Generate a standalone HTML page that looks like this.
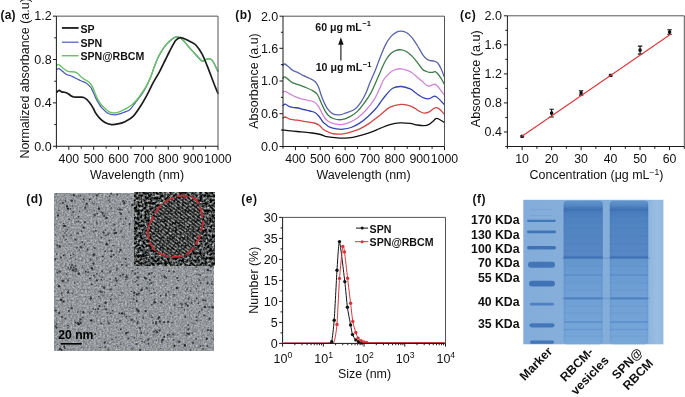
<!DOCTYPE html><html><head><meta charset="utf-8"><style>html,body{margin:0;padding:0;background:#fff;}svg{display:block;will-change:transform;}</style></head><body>
<svg width="685" height="397" viewBox="0 0 685 397" font-family='"Liberation Sans", sans-serif'>
<rect width="685" height="397" fill="#fff"/>
<text x="0.60" y="18.90" font-size="12.00" text-anchor="start" font-weight="bold" fill="#111" letter-spacing="0.15">(a)</text>
<path d="M56.70,69.30 C57.05,69.18 58.08,68.47 58.80,68.60 C59.52,68.73 60.12,69.42 61.00,70.10 C61.88,70.78 63.08,71.92 64.10,72.70 C65.12,73.48 66.10,74.33 67.10,74.80 C68.10,75.27 68.97,75.08 70.10,75.50 C71.23,75.92 72.63,76.67 73.90,77.30 C75.17,77.93 76.45,78.68 77.70,79.30 C78.95,79.92 80.15,80.47 81.40,81.00 C82.65,81.53 84.07,81.87 85.20,82.50 C86.33,83.13 87.32,84.03 88.20,84.80 C89.08,85.57 89.95,86.47 90.50,87.10 C91.05,87.73 91.00,87.65 91.50,88.60 C92.00,89.55 92.78,91.22 93.50,92.80 C94.22,94.38 94.92,96.33 95.80,98.10 C96.68,99.87 97.80,101.77 98.80,103.40 C99.80,105.03 100.28,106.27 101.80,107.90 C103.32,109.53 105.83,112.03 107.90,113.20 C109.97,114.37 112.10,114.83 114.20,114.90 C116.30,114.97 118.78,114.07 120.50,113.60 C122.22,113.13 122.95,112.73 124.50,112.10 C126.05,111.47 128.03,111.32 129.80,109.80 C131.57,108.28 133.22,105.43 135.10,103.00 C136.98,100.57 139.33,97.77 141.10,95.20 C142.87,92.63 144.18,90.42 145.70,87.60 C147.22,84.78 148.82,81.63 150.20,78.30 C151.58,74.97 152.87,70.65 154.00,67.60 C155.13,64.55 155.92,62.47 157.00,60.00 C158.08,57.53 158.88,55.45 160.50,52.80 C162.12,50.15 164.48,46.58 166.70,44.10 C168.92,41.62 171.88,39.08 173.80,37.90 C175.72,36.72 176.73,36.70 178.20,37.00 C179.67,37.30 180.98,38.22 182.60,39.70 C184.22,41.18 185.83,43.55 187.90,45.90 C189.97,48.25 192.65,51.30 195.00,53.80 C197.35,56.30 200.25,59.93 202.00,60.90 C203.75,61.87 204.33,59.97 205.50,59.60 C206.67,59.23 207.82,58.48 209.00,58.70 C210.18,58.92 211.12,58.78 212.60,60.90 C214.08,63.02 217.02,69.65 217.90,71.40" fill="none" stroke="#4a5ab8" stroke-width="1.25" stroke-linejoin="round" stroke-linecap="round"/>
<path d="M56.70,65.20 C57.05,65.10 58.08,64.42 58.80,64.60 C59.52,64.78 60.12,65.57 61.00,66.30 C61.88,67.03 63.08,68.18 64.10,69.00 C65.12,69.82 66.10,70.75 67.10,71.20 C68.10,71.65 68.85,71.57 70.10,71.70 C71.35,71.83 73.33,71.70 74.60,72.00 C75.87,72.30 76.68,72.75 77.70,73.50 C78.72,74.25 79.70,75.62 80.70,76.50 C81.70,77.38 82.57,78.05 83.70,78.80 C84.83,79.55 86.37,80.18 87.50,81.00 C88.63,81.82 89.68,82.75 90.50,83.70 C91.32,84.65 91.90,85.80 92.40,86.70 C92.90,87.60 92.93,87.70 93.50,89.10 C94.07,90.50 94.92,93.10 95.80,95.10 C96.68,97.10 97.80,99.40 98.80,101.10 C99.80,102.80 100.80,104.10 101.80,105.30 C102.80,106.50 103.57,107.22 104.80,108.30 C106.03,109.38 107.63,111.02 109.20,111.80 C110.77,112.58 112.40,113.03 114.20,113.00 C116.00,112.97 118.03,112.35 120.00,111.60 C121.97,110.85 124.12,109.55 126.00,108.50 C127.88,107.45 129.53,106.72 131.30,105.30 C133.07,103.88 134.97,101.88 136.60,100.00 C138.23,98.12 139.58,96.13 141.10,94.00 C142.62,91.87 144.18,89.85 145.70,87.20 C147.22,84.55 148.82,81.37 150.20,78.10 C151.58,74.83 152.87,70.62 154.00,67.60 C155.13,64.58 155.92,62.47 157.00,60.00 C158.08,57.53 158.88,55.45 160.50,52.80 C162.12,50.15 164.48,46.58 166.70,44.10 C168.92,41.62 171.88,39.08 173.80,37.90 C175.72,36.72 176.73,36.70 178.20,37.00 C179.67,37.30 180.98,38.22 182.60,39.70 C184.22,41.18 185.83,43.55 187.90,45.90 C189.97,48.25 192.65,51.30 195.00,53.80 C197.35,56.30 200.25,59.93 202.00,60.90 C203.75,61.87 204.33,59.97 205.50,59.60 C206.67,59.23 207.82,58.48 209.00,58.70 C210.18,58.92 211.12,58.78 212.60,60.90 C214.08,63.02 217.02,69.65 217.90,71.40" fill="none" stroke="#6cc366" stroke-width="1.45" stroke-linejoin="round" stroke-linecap="round"/>
<path d="M56.90,92.10 C57.08,91.92 57.57,91.28 58.00,91.00 C58.43,90.72 59.05,90.37 59.50,90.40 C59.95,90.43 60.25,90.92 60.70,91.20 C61.15,91.48 61.63,91.93 62.20,92.10 C62.77,92.27 63.42,92.10 64.10,92.20 C64.78,92.30 65.55,92.40 66.30,92.70 C67.05,93.00 67.83,93.50 68.60,94.00 C69.37,94.50 70.02,95.20 70.90,95.70 C71.78,96.20 72.77,96.75 73.90,97.00 C75.03,97.25 76.45,97.18 77.70,97.20 C78.95,97.22 80.40,97.05 81.40,97.10 C82.40,97.15 82.82,97.13 83.70,97.50 C84.58,97.87 85.70,98.43 86.70,99.30 C87.70,100.17 88.82,101.57 89.70,102.70 C90.58,103.83 91.30,104.97 92.00,106.10 C92.70,107.23 93.30,108.35 93.90,109.50 C94.50,110.65 94.53,111.43 95.60,113.00 C96.67,114.57 98.67,117.28 100.30,118.90 C101.93,120.52 103.50,121.75 105.40,122.70 C107.30,123.65 109.60,124.40 111.70,124.60 C113.80,124.80 115.70,124.43 118.00,123.90 C120.30,123.37 122.98,122.65 125.50,121.40 C128.02,120.15 130.50,119.08 133.10,116.40 C135.70,113.72 138.75,108.92 141.10,105.30 C143.45,101.68 145.18,98.47 147.20,94.70 C149.22,90.93 151.18,86.47 153.20,82.70 C155.22,78.93 157.28,75.88 159.30,72.10 C161.32,68.32 163.68,63.27 165.30,60.00 C166.92,56.73 167.28,55.73 169.00,52.50 C170.72,49.27 173.77,43.08 175.60,40.60 C177.43,38.12 178.53,37.90 180.00,37.60 C181.47,37.30 182.50,38.02 184.40,38.80 C186.30,39.58 189.50,41.27 191.40,42.30 C193.30,43.33 194.03,43.08 195.80,45.00 C197.57,46.92 200.08,50.28 202.00,53.80 C203.92,57.32 205.23,60.95 207.30,66.10 C209.37,71.25 212.63,80.18 214.40,84.70 C216.17,89.22 217.32,91.78 217.90,93.20" fill="none" stroke="#1c1c1c" stroke-width="1.70" stroke-linejoin="round" stroke-linecap="round"/>
<path d="M56.40,16.15 H218.00 V146.25" fill="none" stroke="#555" stroke-width="1.00"/>
<path d="M56.40,16.15 V146.25 H218.00" fill="none" stroke="#1a1a1a" stroke-width="1.00"/>
<path d="M52.90,146.25 H56.40 M52.90,102.88 H56.40 M52.90,59.52 H56.40 M52.90,16.15 H56.40 M54.30,124.57 H56.40 M54.30,81.20 H56.40 M54.30,37.83 H56.40 " stroke="#1a1a1a" stroke-width="1"/>
<path d="M68.83,146.25 V149.85 M93.69,146.25 V149.85 M118.55,146.25 V149.85 M143.42,146.25 V149.85 M168.28,146.25 V149.85 M193.14,146.25 V149.85 M218.00,146.25 V149.85 M56.40,146.25 V148.55 M81.26,146.25 V148.55 M106.12,146.25 V148.55 M130.98,146.25 V148.55 M155.85,146.25 V148.55 M180.71,146.25 V148.55 M205.57,146.25 V148.55 " stroke="#1a1a1a" stroke-width="1"/>
<text x="51.60" y="150.55" font-size="12.50" text-anchor="end" font-weight="normal" fill="#111" >0.0</text>
<text x="51.60" y="107.18" font-size="12.50" text-anchor="end" font-weight="normal" fill="#111" >0.4</text>
<text x="51.60" y="63.82" font-size="12.50" text-anchor="end" font-weight="normal" fill="#111" >0.8</text>
<text x="51.60" y="20.45" font-size="12.50" text-anchor="end" font-weight="normal" fill="#111" >1.2</text>
<text x="68.83" y="162.60" font-size="12.30" text-anchor="middle" font-weight="normal" fill="#111" >400</text>
<text x="93.69" y="162.60" font-size="12.30" text-anchor="middle" font-weight="normal" fill="#111" >500</text>
<text x="118.55" y="162.60" font-size="12.30" text-anchor="middle" font-weight="normal" fill="#111" >600</text>
<text x="143.42" y="162.60" font-size="12.30" text-anchor="middle" font-weight="normal" fill="#111" >700</text>
<text x="168.28" y="162.60" font-size="12.30" text-anchor="middle" font-weight="normal" fill="#111" >800</text>
<text x="193.14" y="162.60" font-size="12.30" text-anchor="middle" font-weight="normal" fill="#111" >900</text>
<text x="218.00" y="162.60" font-size="12.30" text-anchor="middle" font-weight="normal" fill="#111" >1000</text>
<text x="137.00" y="178.70" font-size="12.45" text-anchor="middle" font-weight="normal" fill="#111" >Wavelength (nm)</text>
<text transform="translate(28.5,158.6) rotate(-90)" font-size="12.45" fill="#111">Normalized absorbance (a.u)</text>
<path d="M61.9,27.95 H78.6" stroke="#1c1c1c" stroke-width="1.80"/>
<text x="80.40" y="32.65" font-size="10.60" text-anchor="start" font-weight="bold" fill="#111" >SP</text>
<path d="M61.9,42.20 H78.6" stroke="#4a5ab8" stroke-width="1.20"/>
<text x="80.40" y="46.90" font-size="10.60" text-anchor="start" font-weight="bold" fill="#111" >SPN</text>
<path d="M61.9,55.70 H78.6" stroke="#6cc366" stroke-width="1.50"/>
<text x="80.40" y="60.40" font-size="10.60" text-anchor="start" font-weight="bold" fill="#111" >SPN@RBCM</text>
<text x="235.30" y="19.20" font-size="12.00" text-anchor="start" font-weight="bold" fill="#111" letter-spacing="0.5">(b)</text>
<path d="M282.60,129.80 C283.95,129.98 287.57,130.55 290.70,130.90 C293.83,131.25 297.85,131.55 301.40,131.90 C304.95,132.25 308.80,132.57 312.00,133.00 C315.20,133.43 318.17,133.90 320.60,134.50 C323.03,135.10 324.23,136.07 326.60,136.60 C328.97,137.13 331.80,137.43 334.80,137.70 C337.80,137.97 341.60,138.25 344.60,138.20 C347.60,138.15 349.80,137.95 352.80,137.40 C355.80,136.85 359.32,135.87 362.60,134.90 C365.88,133.93 369.60,132.68 372.50,131.60 C375.40,130.52 377.08,129.57 380.00,128.40 C382.92,127.23 386.67,125.52 390.00,124.60 C393.33,123.68 396.67,123.10 400.00,122.90 C403.33,122.70 407.13,123.05 410.00,123.40 C412.87,123.75 414.80,124.62 417.20,125.00 C419.60,125.38 422.40,125.82 424.40,125.70 C426.40,125.58 427.80,125.02 429.20,124.30 C430.60,123.58 431.68,122.35 432.80,121.40 C433.92,120.45 434.92,119.00 435.90,118.60 C436.88,118.20 437.28,118.33 438.70,119.00 C440.12,119.67 443.45,122.00 444.40,122.60" fill="none" stroke="#111" stroke-width="1.30" stroke-linejoin="round" stroke-linecap="round"/>
<path d="M282.90,117.90 C283.30,117.75 284.18,116.80 285.30,117.00 C286.42,117.20 287.63,118.57 289.60,119.10 C291.57,119.63 294.43,119.77 297.10,120.20 C299.77,120.63 302.75,121.23 305.60,121.70 C308.45,122.17 311.88,122.37 314.20,123.00 C316.52,123.63 317.90,124.37 319.50,125.50 C321.10,126.63 321.80,128.50 323.80,129.80 C325.80,131.10 328.58,132.58 331.50,133.30 C334.42,134.02 338.30,134.23 341.30,134.10 C344.30,133.97 346.50,133.32 349.50,132.50 C352.50,131.68 356.02,130.72 359.30,129.20 C362.58,127.68 365.75,125.73 369.20,123.40 C372.65,121.07 376.53,117.90 380.00,115.20 C383.47,112.50 386.50,109.02 390.00,107.20 C393.50,105.38 397.67,104.52 401.00,104.30 C404.33,104.08 407.70,105.23 410.00,105.90 C412.30,106.57 413.20,107.38 414.80,108.30 C416.40,109.22 418.00,110.60 419.60,111.40 C421.20,112.20 422.80,113.02 424.40,113.10 C426.00,113.18 427.60,112.70 429.20,111.90 C430.80,111.10 432.62,108.98 434.00,108.30 C435.38,107.62 436.32,107.40 437.50,107.80 C438.68,108.20 439.95,109.62 441.10,110.70 C442.25,111.78 443.85,113.70 444.40,114.30" fill="none" stroke="#d24545" stroke-width="1.30" stroke-linejoin="round" stroke-linecap="round"/>
<path d="M282.90,105.50 C283.30,105.28 284.18,104.00 285.30,104.20 C286.42,104.40 288.17,106.13 289.60,106.70 C291.03,107.27 292.47,107.38 293.90,107.60 C295.33,107.82 296.60,107.68 298.20,108.00 C299.80,108.32 301.55,109.00 303.50,109.50 C305.45,110.00 307.93,110.47 309.90,111.00 C311.87,111.53 313.70,111.70 315.30,112.70 C316.90,113.70 318.27,115.50 319.50,117.00 C320.73,118.50 321.63,120.47 322.70,121.70 C323.77,122.93 324.72,123.48 325.90,124.40 C327.08,125.32 328.05,126.45 329.80,127.20 C331.55,127.95 334.20,128.57 336.40,128.90 C338.60,129.23 340.55,129.43 343.00,129.20 C345.45,128.97 348.38,128.47 351.10,127.50 C353.82,126.53 356.57,125.17 359.30,123.40 C362.03,121.63 364.77,119.35 367.50,116.90 C370.23,114.45 373.62,111.02 375.70,108.70 C377.78,106.38 378.28,105.28 380.00,103.00 C381.72,100.72 383.90,97.47 386.00,95.00 C388.10,92.53 390.03,89.62 392.60,88.20 C395.17,86.78 398.47,86.38 401.40,86.50 C404.33,86.62 407.97,87.95 410.20,88.90 C412.43,89.85 413.23,91.08 414.80,92.20 C416.37,93.32 418.00,94.60 419.60,95.60 C421.20,96.60 422.80,97.68 424.40,98.20 C426.00,98.72 427.60,99.02 429.20,98.70 C430.80,98.38 432.82,96.62 434.00,96.30 C435.18,95.98 435.32,96.20 436.30,96.80 C437.28,97.40 438.55,98.58 439.90,99.90 C441.25,101.22 443.65,103.90 444.40,104.70" fill="none" stroke="#3444b0" stroke-width="1.30" stroke-linejoin="round" stroke-linecap="round"/>
<path d="M282.90,92.20 C283.30,92.07 284.18,91.12 285.30,91.40 C286.42,91.68 287.98,93.02 289.60,93.90 C291.22,94.78 293.03,95.88 295.00,96.70 C296.97,97.52 299.27,98.20 301.40,98.80 C303.53,99.40 305.67,99.77 307.80,100.30 C309.93,100.83 312.42,101.00 314.20,102.00 C315.98,103.00 317.25,104.52 318.50,106.30 C319.75,108.08 320.63,110.75 321.70,112.70 C322.77,114.65 323.68,116.48 324.90,118.00 C326.12,119.52 327.35,120.82 329.00,121.80 C330.65,122.78 332.75,123.43 334.80,123.90 C336.85,124.37 338.85,124.87 341.30,124.60 C343.75,124.33 346.77,123.45 349.50,122.30 C352.23,121.15 354.97,119.70 357.70,117.70 C360.43,115.70 363.17,113.30 365.90,110.30 C368.63,107.30 371.95,103.00 374.10,99.70 C376.25,96.40 377.18,93.87 378.80,90.50 C380.42,87.13 381.80,82.60 383.80,79.50 C385.80,76.40 388.75,73.60 390.80,71.90 C392.85,70.20 394.33,69.82 396.10,69.30 C397.87,68.78 399.63,68.65 401.40,68.80 C403.17,68.95 404.93,69.53 406.70,70.20 C408.47,70.87 410.23,71.63 412.00,72.80 C413.77,73.97 415.55,75.73 417.30,77.20 C419.05,78.67 421.05,80.33 422.50,81.60 C423.95,82.87 424.88,84.07 426.00,84.80 C427.12,85.53 427.87,86.08 429.20,86.00 C430.53,85.92 432.82,84.47 434.00,84.30 C435.18,84.13 435.32,84.20 436.30,85.00 C437.28,85.80 438.55,87.42 439.90,89.10 C441.25,90.78 443.65,94.10 444.40,95.10" fill="none" stroke="#cf86d2" stroke-width="1.30" stroke-linejoin="round" stroke-linecap="round"/>
<path d="M282.90,78.30 C283.20,78.07 283.77,76.68 284.70,76.90 C285.63,77.12 287.15,78.62 288.50,79.60 C289.85,80.58 291.02,81.92 292.80,82.80 C294.58,83.68 297.07,84.12 299.20,84.90 C301.33,85.68 303.47,86.60 305.60,87.50 C307.73,88.40 310.03,89.13 312.00,90.30 C313.97,91.47 315.78,92.20 317.40,94.50 C319.02,96.80 320.45,101.42 321.70,104.10 C322.95,106.78 323.82,108.75 324.90,110.60 C325.98,112.45 326.83,113.88 328.20,115.20 C329.57,116.52 330.92,117.75 333.10,118.50 C335.28,119.25 338.57,119.97 341.30,119.70 C344.03,119.43 346.77,118.33 349.50,116.90 C352.23,115.47 355.23,113.42 357.70,111.10 C360.17,108.78 362.12,106.00 364.30,103.00 C366.48,100.00 369.02,96.22 370.80,93.10 C372.58,89.98 373.42,87.83 375.00,84.30 C376.58,80.77 378.53,75.87 380.30,71.90 C382.07,67.93 383.85,63.57 385.60,60.50 C387.35,57.43 389.05,55.20 390.80,53.50 C392.55,51.80 394.33,50.90 396.10,50.30 C397.87,49.70 399.63,49.67 401.40,49.90 C403.17,50.13 404.93,50.67 406.70,51.70 C408.47,52.73 410.23,54.33 412.00,56.10 C413.77,57.87 415.55,60.10 417.30,62.30 C419.05,64.50 420.97,67.77 422.50,69.30 C424.03,70.83 425.38,71.00 426.50,71.50 C427.62,72.00 428.15,72.17 429.20,72.30 C430.25,72.43 431.82,72.42 432.80,72.30 C433.78,72.18 434.32,71.40 435.10,71.60 C435.88,71.80 436.50,72.38 437.50,73.50 C438.50,74.62 439.95,76.50 441.10,78.30 C442.25,80.10 443.85,83.30 444.40,84.30" fill="none" stroke="#3e7b46" stroke-width="1.30" stroke-linejoin="round" stroke-linecap="round"/>
<path d="M282.90,65.50 C283.20,65.25 283.77,63.78 284.70,64.00 C285.63,64.22 287.15,65.73 288.50,66.80 C289.85,67.87 291.37,69.52 292.80,70.40 C294.23,71.28 295.32,71.22 297.10,72.10 C298.88,72.98 301.37,74.63 303.50,75.70 C305.63,76.77 307.93,77.50 309.90,78.50 C311.87,79.50 313.87,80.28 315.30,81.70 C316.73,83.12 317.43,84.50 318.50,87.00 C319.57,89.50 320.63,93.85 321.70,96.70 C322.77,99.55 323.95,102.10 324.90,104.10 C325.85,106.10 326.17,107.12 327.40,108.70 C328.63,110.28 330.25,112.58 332.30,113.60 C334.35,114.62 337.38,114.93 339.70,114.80 C342.02,114.67 343.75,113.68 346.20,112.80 C348.65,111.92 351.93,111.28 354.40,109.50 C356.87,107.72 359.08,104.83 361.00,102.10 C362.92,99.37 364.40,96.37 365.90,93.10 C367.40,89.83 368.48,86.17 370.00,82.50 C371.52,78.83 373.28,75.35 375.00,71.10 C376.72,66.85 378.53,61.42 380.30,57.00 C382.07,52.58 383.85,47.98 385.60,44.60 C387.35,41.22 389.05,38.75 390.80,36.70 C392.55,34.65 394.33,33.23 396.10,32.30 C397.87,31.37 399.63,31.03 401.40,31.10 C403.17,31.17 404.93,31.62 406.70,32.70 C408.47,33.78 410.23,35.47 412.00,37.60 C413.77,39.73 415.55,42.72 417.30,45.50 C419.05,48.28 421.05,52.13 422.50,54.30 C423.95,56.47 424.88,57.48 426.00,58.50 C427.12,59.52 427.87,59.97 429.20,60.40 C430.53,60.83 432.62,60.70 434.00,61.10 C435.38,61.50 436.32,61.53 437.50,62.80 C438.68,64.07 439.95,66.32 441.10,68.70 C442.25,71.08 443.85,75.70 444.40,77.10" fill="none" stroke="#5a64ac" stroke-width="1.30" stroke-linejoin="round" stroke-linecap="round"/>
<path d="M283.00,16.20 H444.50 V146.50" fill="none" stroke="#555" stroke-width="1.00"/>
<path d="M283.00,16.20 V146.50 H444.50" fill="none" stroke="#1a1a1a" stroke-width="1.00"/>
<path d="M279.50,146.50 H283.00 M279.50,113.70 H283.00 M279.50,81.00 H283.00 M279.50,48.30 H283.00 M279.50,16.20 H283.00 M280.90,130.10 H283.00 M280.90,97.35 H283.00 M280.90,64.65 H283.00 M280.90,32.25 H283.00 " stroke="#1a1a1a" stroke-width="1"/>
<path d="M295.42,146.50 V150.10 M320.27,146.50 V150.10 M345.12,146.50 V150.10 M369.96,146.50 V150.10 M394.81,146.50 V150.10 M419.65,146.50 V150.10 M444.50,146.50 V150.10 M283.00,146.50 V148.80 M307.85,146.50 V148.80 M332.69,146.50 V148.80 M357.54,146.50 V148.80 M382.38,146.50 V148.80 M407.23,146.50 V148.80 M432.08,146.50 V148.80 " stroke="#1a1a1a" stroke-width="1"/>
<text x="278.30" y="150.80" font-size="12.50" text-anchor="end" font-weight="normal" fill="#111" >0.0</text>
<text x="278.30" y="118.00" font-size="12.50" text-anchor="end" font-weight="normal" fill="#111" >0.6</text>
<text x="278.30" y="85.30" font-size="12.50" text-anchor="end" font-weight="normal" fill="#111" >1.0</text>
<text x="278.30" y="52.60" font-size="12.50" text-anchor="end" font-weight="normal" fill="#111" >1.6</text>
<text x="278.30" y="20.50" font-size="12.50" text-anchor="end" font-weight="normal" fill="#111" >2.0</text>
<text x="295.42" y="162.60" font-size="12.30" text-anchor="middle" font-weight="normal" fill="#111" >400</text>
<text x="320.27" y="162.60" font-size="12.30" text-anchor="middle" font-weight="normal" fill="#111" >500</text>
<text x="345.12" y="162.60" font-size="12.30" text-anchor="middle" font-weight="normal" fill="#111" >600</text>
<text x="369.96" y="162.60" font-size="12.30" text-anchor="middle" font-weight="normal" fill="#111" >700</text>
<text x="394.81" y="162.60" font-size="12.30" text-anchor="middle" font-weight="normal" fill="#111" >800</text>
<text x="419.65" y="162.60" font-size="12.30" text-anchor="middle" font-weight="normal" fill="#111" >900</text>
<text x="444.50" y="162.60" font-size="12.30" text-anchor="middle" font-weight="normal" fill="#111" >1000</text>
<text x="363.50" y="178.70" font-size="12.45" text-anchor="middle" font-weight="normal" fill="#111" >Wavelength (nm)</text>
<text transform="translate(258.3,81.0) rotate(-90)" font-size="12.45" fill="#111" text-anchor="middle">Absorbance (a.u)</text>
<text x="315.3" y="30.6" font-size="10.6" font-weight="bold" fill="#111">60 μg mL<tspan font-size="7.6" dx="0.5" dy="-4.3">−1</tspan></text>
<text x="315.7" y="71.3" font-size="10.6" font-weight="bold" fill="#111">10 μg mL<tspan font-size="7.6" dx="0.5" dy="-4.3">−1</tspan></text>
<path d="M340.9,60.6 V42" stroke="#111" stroke-width="1.1"/>
<path d="M338.2,44.8 L340.9,37.2 L343.6,44.8 Z" fill="#111"/>
<text x="460.10" y="19.20" font-size="12.00" text-anchor="start" font-weight="bold" fill="#111" letter-spacing="0.5">(c)</text>
<path d="M507.40,15.80 H684.30 V146.50" fill="none" stroke="#555" stroke-width="1.00"/>
<path d="M507.40,15.80 V146.50 H684.30" fill="none" stroke="#1a1a1a" stroke-width="1.00"/>
<path d="M503.90,131.98 H507.40 M503.90,102.93 H507.40 M503.90,73.89 H507.40 M503.90,44.84 H507.40 M503.90,15.80 H507.40 M505.30,146.50 H507.40 M505.30,117.46 H507.40 M505.30,88.41 H507.40 M505.30,59.37 H507.40 M505.30,30.32 H507.40 " stroke="#1a1a1a" stroke-width="1"/>
<path d="M522.14,146.50 V150.10 M551.62,146.50 V150.10 M581.11,146.50 V150.10 M610.59,146.50 V150.10 M640.07,146.50 V150.10 M669.56,146.50 V150.10 M507.40,146.50 V148.80 M536.88,146.50 V148.80 M566.37,146.50 V148.80 M595.85,146.50 V148.80 M625.33,146.50 V148.80 M654.82,146.50 V148.80 M684.30,146.50 V148.80 " stroke="#1a1a1a" stroke-width="1"/>
<text x="502.00" y="136.28" font-size="12.50" text-anchor="end" font-weight="normal" fill="#111" >0.4</text>
<text x="502.00" y="107.23" font-size="12.50" text-anchor="end" font-weight="normal" fill="#111" >0.8</text>
<text x="502.00" y="78.19" font-size="12.50" text-anchor="end" font-weight="normal" fill="#111" >1.2</text>
<text x="502.00" y="49.14" font-size="12.50" text-anchor="end" font-weight="normal" fill="#111" >1.6</text>
<text x="502.00" y="20.10" font-size="12.50" text-anchor="end" font-weight="normal" fill="#111" >2.0</text>
<text x="522.14" y="163.00" font-size="12.30" text-anchor="middle" font-weight="normal" fill="#111" >10</text>
<text x="551.62" y="163.00" font-size="12.30" text-anchor="middle" font-weight="normal" fill="#111" >20</text>
<text x="581.11" y="163.00" font-size="12.30" text-anchor="middle" font-weight="normal" fill="#111" >30</text>
<text x="610.59" y="163.00" font-size="12.30" text-anchor="middle" font-weight="normal" fill="#111" >40</text>
<text x="640.07" y="163.00" font-size="12.30" text-anchor="middle" font-weight="normal" fill="#111" >50</text>
<text x="669.56" y="163.00" font-size="12.30" text-anchor="middle" font-weight="normal" fill="#111" >60</text>
<text x="529.6" y="179.1" font-size="12.45" fill="#111">Concentration (μg mL<tspan font-size="8.5" dy="-4.6">−1</tspan><tspan dy="4.6">)</tspan></text>
<text transform="translate(479.6,78.7) rotate(-90)" font-size="12.65" fill="#111" text-anchor="middle">Absorbance (a.u)</text>
<rect x="520.54" y="134.70" width="3.2" height="3.2" rx="0.6" fill="#111"/>
<path d="M519.94,136.90 H524.34" stroke="#111" stroke-width="0.8"/>
<rect x="550.02" y="111.50" width="3.2" height="3.2" rx="0.6" fill="#111"/>
<path d="M551.62,109.20 V117.00 M549.42,109.20 H553.83 M549.42,117.00 H553.83" stroke="#111" stroke-width="1.1"/>
<rect x="579.51" y="91.30" width="3.2" height="3.2" rx="0.6" fill="#111"/>
<path d="M581.11,90.70 V95.10 M578.91,90.70 H583.31 M578.91,95.10 H583.31" stroke="#111" stroke-width="1.1"/>
<rect x="608.99" y="73.80" width="3.2" height="3.2" rx="0.6" fill="#111"/>
<path d="M608.39,76.00 H612.79" stroke="#111" stroke-width="0.8"/>
<rect x="638.47" y="48.50" width="3.2" height="3.2" rx="0.6" fill="#111"/>
<path d="M640.07,46.10 V54.10 M637.87,46.10 H642.27 M637.87,54.10 H642.27" stroke="#111" stroke-width="1.1"/>
<rect x="667.96" y="30.40" width="3.2" height="3.2" rx="0.6" fill="#111"/>
<path d="M669.56,29.80 V34.20 M667.36,29.80 H671.76 M667.36,34.20 H671.76" stroke="#111" stroke-width="1.1"/>
<path d="M521.6,136.4 L671,33.9" stroke="#dc3a3e" stroke-width="1.2"/>
<text x="26.30" y="203.00" font-size="12.00" text-anchor="start" font-weight="bold" fill="#111" letter-spacing="0.5">(d)</text>
<defs><filter id="temf" filterUnits="userSpaceOnUse" x="54" y="193" width="160" height="158" color-interpolation-filters="sRGB"><feTurbulence type="fractalNoise" baseFrequency="0.55" numOctaves="2" seed="4"/><feColorMatrix type="matrix" values="0.5 0 0 0 0.33  0.5 0 0 0 0.345  0.5 0 0 0 0.36  0 0 0 0 1"/></filter><filter id="insf" filterUnits="userSpaceOnUse" x="134" y="192" width="81" height="74" color-interpolation-filters="sRGB"><feTurbulence type="fractalNoise" baseFrequency="0.4" numOctaves="2" seed="11"/><feColorMatrix type="matrix" values="1.6 0 0 0 -0.53  1.6 0 0 0 -0.52  1.6 0 0 0 -0.52  0 0 0 0 1"/></filter><filter id="dblur" x="-50%" y="-50%" width="200%" height="200%"><feGaussianBlur stdDeviation="0.22"/></filter></defs>
<rect x="54.10" y="193.00" width="159.80" height="158.00" fill="#999" filter="url(#temf)"/>
<g fill="#222426" filter="url(#dblur)"><circle cx="106.0" cy="217.2" r="0.60" fill-opacity="0.63"/><circle cx="63.8" cy="273.2" r="0.60" fill-opacity="0.63"/><circle cx="121.0" cy="231.3" r="1.10" fill-opacity="0.62"/><circle cx="144.4" cy="342.2" r="0.60" fill-opacity="0.83"/><circle cx="117.6" cy="346.8" r="0.60" fill-opacity="0.82"/><circle cx="75.7" cy="259.3" r="0.70" fill-opacity="0.83"/><circle cx="143.6" cy="300.6" r="0.70" fill-opacity="0.83"/><circle cx="64.1" cy="225.8" r="1.10" fill-opacity="0.91"/><circle cx="128.5" cy="338.5" r="1.00" fill-opacity="0.72"/><circle cx="180.7" cy="303.2" r="0.80" fill-opacity="0.63"/><circle cx="102.3" cy="271.2" r="1.00" fill-opacity="0.89"/><circle cx="100.3" cy="347.4" r="0.70" fill-opacity="0.80"/><circle cx="80.8" cy="247.2" r="1.20" fill-opacity="0.77"/><circle cx="143.2" cy="317.4" r="1.00" fill-opacity="0.74"/><circle cx="110.2" cy="271.5" r="1.20" fill-opacity="0.63"/><circle cx="69.5" cy="235.9" r="0.70" fill-opacity="0.62"/><circle cx="166.0" cy="295.1" r="1.20" fill-opacity="0.71"/><circle cx="115.9" cy="298.5" r="0.60" fill-opacity="0.98"/><circle cx="111.0" cy="289.4" r="1.20" fill-opacity="0.62"/><circle cx="93.9" cy="254.9" r="1.20" fill-opacity="0.63"/><circle cx="125.9" cy="279.8" r="0.75" fill-opacity="0.93"/><circle cx="120.5" cy="249.8" r="1.10" fill-opacity="0.98"/><circle cx="78.6" cy="221.2" r="0.80" fill-opacity="0.86"/><circle cx="56.5" cy="324.0" r="0.75" fill-opacity="0.71"/><circle cx="55.3" cy="259.3" r="1.00" fill-opacity="0.84"/><circle cx="105.2" cy="213.2" r="0.60" fill-opacity="0.78"/><circle cx="192.9" cy="342.9" r="1.10" fill-opacity="0.76"/><circle cx="117.2" cy="269.1" r="1.10" fill-opacity="0.62"/><circle cx="65.3" cy="226.3" r="0.75" fill-opacity="0.64"/><circle cx="144.6" cy="277.7" r="1.00" fill-opacity="0.85"/><circle cx="65.8" cy="226.1" r="1.10" fill-opacity="0.66"/><circle cx="94.7" cy="248.0" r="1.00" fill-opacity="0.79"/><circle cx="72.9" cy="270.1" r="1.20" fill-opacity="0.79"/><circle cx="104.1" cy="216.1" r="1.00" fill-opacity="0.90"/><circle cx="130.6" cy="302.2" r="0.60" fill-opacity="0.68"/><circle cx="164.2" cy="337.0" r="0.90" fill-opacity="0.99"/><circle cx="191.7" cy="302.8" r="0.90" fill-opacity="0.81"/><circle cx="90.0" cy="278.5" r="1.00" fill-opacity="0.85"/><circle cx="152.0" cy="317.3" r="0.80" fill-opacity="0.92"/><circle cx="184.6" cy="309.7" r="0.80" fill-opacity="0.68"/><circle cx="132.9" cy="308.3" r="0.60" fill-opacity="0.92"/><circle cx="129.6" cy="223.9" r="1.00" fill-opacity="0.78"/><circle cx="203.4" cy="348.6" r="1.00" fill-opacity="0.63"/><circle cx="70.8" cy="267.3" r="1.00" fill-opacity="0.68"/><circle cx="153.7" cy="334.8" r="0.60" fill-opacity="0.79"/><circle cx="158.3" cy="319.0" r="0.70" fill-opacity="0.93"/><circle cx="73.6" cy="254.5" r="0.80" fill-opacity="0.79"/><circle cx="82.9" cy="317.4" r="1.00" fill-opacity="0.63"/><circle cx="204.9" cy="306.8" r="1.20" fill-opacity="0.76"/><circle cx="205.0" cy="307.3" r="0.75" fill-opacity="1.00"/><circle cx="59.0" cy="286.3" r="1.20" fill-opacity="0.92"/><circle cx="77.8" cy="323.3" r="1.20" fill-opacity="0.86"/><circle cx="110.2" cy="279.6" r="0.75" fill-opacity="0.61"/><circle cx="181.5" cy="307.5" r="0.70" fill-opacity="0.81"/><circle cx="193.0" cy="323.2" r="0.80" fill-opacity="0.61"/><circle cx="88.4" cy="272.2" r="1.00" fill-opacity="0.70"/><circle cx="121.1" cy="214.1" r="1.00" fill-opacity="0.96"/><circle cx="159.8" cy="321.5" r="1.10" fill-opacity="0.93"/><circle cx="78.7" cy="273.7" r="1.20" fill-opacity="0.91"/><circle cx="151.2" cy="315.3" r="0.75" fill-opacity="0.67"/><circle cx="129.8" cy="307.4" r="0.60" fill-opacity="0.73"/><circle cx="136.9" cy="280.7" r="0.70" fill-opacity="0.95"/><circle cx="63.6" cy="223.5" r="0.60" fill-opacity="0.91"/><circle cx="135.2" cy="281.7" r="0.70" fill-opacity="0.78"/><circle cx="151.9" cy="272.9" r="0.80" fill-opacity="0.88"/><circle cx="126.4" cy="277.2" r="1.20" fill-opacity="0.80"/><circle cx="93.9" cy="275.6" r="0.90" fill-opacity="0.97"/><circle cx="125.7" cy="258.9" r="1.10" fill-opacity="0.78"/><circle cx="66.1" cy="231.3" r="0.70" fill-opacity="0.69"/><circle cx="102.7" cy="212.7" r="0.75" fill-opacity="0.98"/><circle cx="94.8" cy="215.0" r="1.20" fill-opacity="0.69"/><circle cx="132.0" cy="348.9" r="0.80" fill-opacity="0.66"/><circle cx="123.1" cy="274.4" r="1.00" fill-opacity="0.77"/><circle cx="111.2" cy="208.0" r="1.00" fill-opacity="0.61"/><circle cx="57.5" cy="245.5" r="0.90" fill-opacity="0.80"/><circle cx="64.8" cy="348.2" r="0.80" fill-opacity="0.99"/><circle cx="71.2" cy="235.2" r="0.60" fill-opacity="0.96"/><circle cx="83.4" cy="312.2" r="1.10" fill-opacity="0.94"/><circle cx="161.9" cy="342.0" r="1.10" fill-opacity="0.66"/><circle cx="200.6" cy="283.1" r="1.00" fill-opacity="0.64"/><circle cx="63.7" cy="301.5" r="1.10" fill-opacity="0.96"/><circle cx="97.3" cy="196.1" r="0.70" fill-opacity="0.92"/><circle cx="67.9" cy="327.9" r="0.70" fill-opacity="0.71"/><circle cx="73.9" cy="195.3" r="1.10" fill-opacity="0.97"/><circle cx="97.1" cy="213.8" r="0.80" fill-opacity="0.98"/><circle cx="154.4" cy="276.9" r="0.80" fill-opacity="0.72"/><circle cx="109.7" cy="196.4" r="0.90" fill-opacity="0.61"/><circle cx="57.5" cy="272.9" r="0.80" fill-opacity="0.81"/><circle cx="93.6" cy="263.7" r="1.10" fill-opacity="0.86"/><circle cx="141.3" cy="333.0" r="0.90" fill-opacity="0.88"/><circle cx="186.8" cy="304.5" r="0.75" fill-opacity="0.76"/><circle cx="109.8" cy="202.0" r="0.75" fill-opacity="0.61"/><circle cx="153.9" cy="331.6" r="1.10" fill-opacity="0.67"/><circle cx="68.0" cy="325.6" r="0.90" fill-opacity="0.84"/><circle cx="84.0" cy="235.7" r="0.60" fill-opacity="0.71"/><circle cx="207.3" cy="346.2" r="1.00" fill-opacity="0.70"/><circle cx="111.2" cy="193.7" r="1.10" fill-opacity="0.63"/><circle cx="98.9" cy="296.5" r="0.80" fill-opacity="0.80"/><circle cx="55.4" cy="235.0" r="0.70" fill-opacity="0.66"/><circle cx="102.2" cy="292.4" r="0.70" fill-opacity="0.83"/><circle cx="138.6" cy="311.3" r="1.10" fill-opacity="0.91"/><circle cx="169.0" cy="271.1" r="0.90" fill-opacity="0.89"/><circle cx="187.2" cy="333.5" r="1.10" fill-opacity="0.89"/><circle cx="137.8" cy="272.7" r="0.60" fill-opacity="0.93"/><circle cx="147.3" cy="333.7" r="0.80" fill-opacity="0.63"/><circle cx="61.2" cy="293.5" r="0.70" fill-opacity="0.75"/><circle cx="126.3" cy="201.5" r="0.60" fill-opacity="0.85"/><circle cx="162.7" cy="270.3" r="0.60" fill-opacity="0.78"/><circle cx="138.1" cy="310.6" r="1.20" fill-opacity="0.70"/><circle cx="66.4" cy="235.2" r="0.80" fill-opacity="0.69"/><circle cx="62.0" cy="292.8" r="0.80" fill-opacity="0.63"/><circle cx="78.0" cy="233.4" r="0.90" fill-opacity="0.85"/><circle cx="75.8" cy="269.2" r="1.20" fill-opacity="0.71"/><circle cx="161.3" cy="302.2" r="1.20" fill-opacity="0.72"/><circle cx="128.7" cy="212.1" r="0.80" fill-opacity="0.72"/><circle cx="68.2" cy="267.8" r="0.90" fill-opacity="0.78"/><circle cx="184.8" cy="345.5" r="1.20" fill-opacity="1.00"/><circle cx="116.0" cy="337.4" r="0.80" fill-opacity="0.63"/><circle cx="68.9" cy="310.9" r="0.90" fill-opacity="0.98"/><circle cx="75.7" cy="322.3" r="0.90" fill-opacity="0.95"/><circle cx="197.2" cy="269.8" r="0.60" fill-opacity="0.66"/><circle cx="205.5" cy="300.5" r="1.10" fill-opacity="0.72"/><circle cx="76.9" cy="247.5" r="1.00" fill-opacity="0.65"/><circle cx="107.2" cy="244.5" r="1.00" fill-opacity="0.94"/><circle cx="167.8" cy="335.0" r="0.90" fill-opacity="0.70"/><circle cx="64.9" cy="254.8" r="0.70" fill-opacity="0.74"/><circle cx="122.6" cy="236.7" r="0.60" fill-opacity="0.71"/><circle cx="62.8" cy="297.4" r="0.75" fill-opacity="0.70"/><circle cx="96.8" cy="273.7" r="0.80" fill-opacity="0.91"/><circle cx="59.2" cy="313.1" r="1.10" fill-opacity="0.97"/><circle cx="204.0" cy="279.7" r="0.70" fill-opacity="0.62"/><circle cx="174.1" cy="294.7" r="0.90" fill-opacity="0.79"/><circle cx="199.4" cy="279.9" r="0.75" fill-opacity="0.79"/><circle cx="109.2" cy="240.3" r="0.90" fill-opacity="0.76"/><circle cx="92.5" cy="269.4" r="1.10" fill-opacity="0.65"/><circle cx="134.1" cy="321.0" r="0.80" fill-opacity="0.78"/><circle cx="107.5" cy="312.7" r="1.10" fill-opacity="0.66"/><circle cx="85.2" cy="207.7" r="1.00" fill-opacity="0.82"/><circle cx="105.3" cy="251.3" r="0.80" fill-opacity="0.95"/><circle cx="120.3" cy="275.8" r="1.10" fill-opacity="0.71"/><circle cx="174.0" cy="271.7" r="1.00" fill-opacity="0.65"/><circle cx="134.5" cy="292.4" r="0.80" fill-opacity="0.64"/><circle cx="104.1" cy="321.4" r="0.60" fill-opacity="0.65"/><circle cx="122.1" cy="313.4" r="1.20" fill-opacity="0.99"/><circle cx="132.4" cy="205.0" r="1.20" fill-opacity="0.99"/><circle cx="94.1" cy="210.6" r="0.75" fill-opacity="0.66"/><circle cx="185.7" cy="303.6" r="1.20" fill-opacity="0.63"/><circle cx="74.6" cy="282.9" r="0.60" fill-opacity="0.86"/><circle cx="102.8" cy="213.6" r="0.90" fill-opacity="0.81"/><circle cx="124.1" cy="313.4" r="0.70" fill-opacity="0.63"/><circle cx="137.9" cy="285.0" r="1.10" fill-opacity="0.70"/><circle cx="140.0" cy="349.9" r="0.90" fill-opacity="0.98"/><circle cx="157.0" cy="332.3" r="1.20" fill-opacity="0.81"/><circle cx="120.0" cy="295.5" r="0.60" fill-opacity="0.61"/><circle cx="133.7" cy="299.4" r="1.10" fill-opacity="0.63"/><circle cx="90.8" cy="260.1" r="1.00" fill-opacity="0.69"/><circle cx="60.0" cy="246.6" r="1.10" fill-opacity="0.74"/><circle cx="117.5" cy="194.6" r="0.90" fill-opacity="0.90"/><circle cx="89.8" cy="312.9" r="0.90" fill-opacity="0.64"/><circle cx="153.6" cy="289.3" r="0.80" fill-opacity="0.79"/><circle cx="149.1" cy="338.2" r="0.60" fill-opacity="0.69"/><circle cx="62.8" cy="202.9" r="1.10" fill-opacity="0.78"/><circle cx="72.6" cy="206.0" r="0.75" fill-opacity="0.73"/><circle cx="114.0" cy="245.6" r="0.75" fill-opacity="0.64"/><circle cx="67.0" cy="206.2" r="1.10" fill-opacity="0.98"/><circle cx="87.5" cy="249.5" r="0.90" fill-opacity="0.93"/><circle cx="123.3" cy="201.2" r="1.20" fill-opacity="0.68"/><circle cx="105.9" cy="309.3" r="1.20" fill-opacity="0.61"/><circle cx="119.8" cy="321.0" r="1.10" fill-opacity="0.62"/><circle cx="60.1" cy="203.3" r="0.60" fill-opacity="0.70"/><circle cx="173.3" cy="334.6" r="1.00" fill-opacity="0.75"/><circle cx="107.8" cy="343.2" r="0.60" fill-opacity="0.70"/><circle cx="98.4" cy="194.1" r="0.70" fill-opacity="0.61"/><circle cx="91.7" cy="268.1" r="1.20" fill-opacity="0.98"/><circle cx="116.0" cy="232.9" r="1.10" fill-opacity="0.93"/><circle cx="75.7" cy="271.5" r="0.60" fill-opacity="0.92"/><circle cx="171.9" cy="322.7" r="0.75" fill-opacity="0.84"/><circle cx="106.7" cy="243.7" r="1.00" fill-opacity="0.91"/><circle cx="149.2" cy="273.9" r="1.10" fill-opacity="0.90"/><circle cx="93.9" cy="203.7" r="0.60" fill-opacity="0.79"/><circle cx="122.3" cy="210.0" r="0.70" fill-opacity="0.71"/><circle cx="68.0" cy="208.6" r="1.20" fill-opacity="1.00"/><circle cx="75.7" cy="265.9" r="0.80" fill-opacity="0.90"/><circle cx="189.1" cy="297.8" r="0.70" fill-opacity="0.91"/><circle cx="101.3" cy="237.4" r="0.90" fill-opacity="0.75"/><circle cx="93.9" cy="232.0" r="0.75" fill-opacity="0.71"/><circle cx="64.9" cy="233.0" r="0.80" fill-opacity="0.80"/><circle cx="91.3" cy="320.4" r="1.20" fill-opacity="1.00"/><circle cx="70.9" cy="268.0" r="0.80" fill-opacity="0.94"/><circle cx="101.2" cy="212.2" r="0.80" fill-opacity="0.84"/><circle cx="66.5" cy="274.0" r="0.75" fill-opacity="0.78"/><circle cx="95.9" cy="315.6" r="0.60" fill-opacity="0.64"/><circle cx="149.3" cy="290.8" r="0.80" fill-opacity="0.61"/><circle cx="108.6" cy="200.4" r="0.90" fill-opacity="0.62"/><circle cx="170.9" cy="337.0" r="0.60" fill-opacity="0.93"/><circle cx="119.5" cy="251.9" r="0.90" fill-opacity="0.63"/><circle cx="59.6" cy="271.3" r="1.20" fill-opacity="0.63"/><circle cx="70.7" cy="255.6" r="0.75" fill-opacity="0.86"/><circle cx="69.1" cy="219.2" r="0.90" fill-opacity="0.76"/><circle cx="99.6" cy="241.8" r="0.60" fill-opacity="0.72"/><circle cx="120.7" cy="329.2" r="1.00" fill-opacity="0.86"/><circle cx="116.6" cy="257.1" r="0.60" fill-opacity="0.77"/><circle cx="79.5" cy="211.3" r="0.70" fill-opacity="0.76"/><circle cx="80.4" cy="195.8" r="0.75" fill-opacity="0.86"/><circle cx="99.6" cy="275.3" r="0.70" fill-opacity="0.64"/><circle cx="132.5" cy="319.9" r="0.80" fill-opacity="0.72"/><circle cx="151.1" cy="293.4" r="0.70" fill-opacity="0.96"/><circle cx="153.1" cy="323.0" r="0.75" fill-opacity="0.86"/><circle cx="190.6" cy="291.0" r="0.80" fill-opacity="0.93"/><circle cx="83.7" cy="227.7" r="1.10" fill-opacity="0.98"/><circle cx="79.4" cy="249.9" r="0.75" fill-opacity="0.70"/><circle cx="169.7" cy="334.4" r="0.60" fill-opacity="0.95"/><circle cx="188.4" cy="299.0" r="1.00" fill-opacity="0.65"/><circle cx="149.8" cy="279.9" r="0.90" fill-opacity="0.86"/><circle cx="103.5" cy="232.6" r="1.10" fill-opacity="0.86"/><circle cx="125.6" cy="262.3" r="0.60" fill-opacity="0.60"/><circle cx="211.2" cy="266.5" r="1.20" fill-opacity="0.91"/><circle cx="83.1" cy="267.8" r="0.70" fill-opacity="0.63"/><circle cx="111.5" cy="250.9" r="1.20" fill-opacity="0.80"/><circle cx="104.4" cy="306.6" r="0.70" fill-opacity="0.62"/><circle cx="190.7" cy="349.9" r="0.70" fill-opacity="0.68"/><circle cx="210.5" cy="270.7" r="0.75" fill-opacity="0.87"/><circle cx="186.9" cy="289.3" r="0.90" fill-opacity="0.66"/><circle cx="134.4" cy="337.9" r="0.80" fill-opacity="0.84"/><circle cx="113.7" cy="224.7" r="1.10" fill-opacity="0.66"/><circle cx="203.3" cy="300.2" r="1.10" fill-opacity="0.67"/><circle cx="138.9" cy="293.4" r="1.00" fill-opacity="0.99"/><circle cx="126.5" cy="275.4" r="0.70" fill-opacity="0.70"/><circle cx="139.7" cy="328.0" r="1.00" fill-opacity="0.71"/><circle cx="211.9" cy="284.1" r="1.00" fill-opacity="0.73"/><circle cx="67.5" cy="229.6" r="0.60" fill-opacity="0.72"/><circle cx="208.0" cy="330.1" r="1.00" fill-opacity="0.89"/><circle cx="100.8" cy="291.7" r="1.10" fill-opacity="0.81"/><circle cx="90.7" cy="296.0" r="0.60" fill-opacity="0.62"/><circle cx="137.7" cy="277.4" r="1.10" fill-opacity="0.83"/><circle cx="153.7" cy="268.1" r="0.75" fill-opacity="0.61"/><circle cx="181.9" cy="304.6" r="1.20" fill-opacity="0.64"/><circle cx="155.9" cy="330.3" r="0.90" fill-opacity="0.76"/><circle cx="96.6" cy="195.3" r="1.00" fill-opacity="0.84"/><circle cx="146.5" cy="288.0" r="1.20" fill-opacity="0.70"/><circle cx="92.3" cy="202.7" r="0.70" fill-opacity="0.60"/><circle cx="142.1" cy="341.2" r="0.75" fill-opacity="0.77"/><circle cx="136.9" cy="294.4" r="1.10" fill-opacity="0.93"/><circle cx="82.3" cy="242.1" r="0.90" fill-opacity="0.85"/><circle cx="212.5" cy="307.2" r="1.20" fill-opacity="0.89"/><circle cx="55.6" cy="326.1" r="1.20" fill-opacity="0.63"/><circle cx="196.1" cy="338.8" r="0.90" fill-opacity="0.88"/><circle cx="96.8" cy="280.4" r="1.10" fill-opacity="0.87"/><circle cx="200.3" cy="346.1" r="0.90" fill-opacity="0.86"/><circle cx="95.9" cy="230.6" r="0.80" fill-opacity="0.98"/><circle cx="154.8" cy="302.3" r="1.20" fill-opacity="0.79"/><circle cx="147.6" cy="282.2" r="0.75" fill-opacity="0.66"/><circle cx="58.9" cy="210.2" r="0.75" fill-opacity="0.74"/><circle cx="77.1" cy="198.0" r="0.60" fill-opacity="0.66"/><circle cx="65.4" cy="200.8" r="1.00" fill-opacity="0.68"/><circle cx="206.2" cy="277.3" r="0.70" fill-opacity="0.95"/><circle cx="174.6" cy="305.2" r="1.10" fill-opacity="0.64"/><circle cx="87.3" cy="211.1" r="0.60" fill-opacity="0.98"/><circle cx="199.3" cy="311.8" r="0.70" fill-opacity="0.93"/><circle cx="70.5" cy="208.9" r="0.80" fill-opacity="0.72"/><circle cx="108.0" cy="234.5" r="1.00" fill-opacity="0.70"/><circle cx="99.5" cy="305.9" r="1.00" fill-opacity="0.96"/><circle cx="176.8" cy="288.0" r="1.20" fill-opacity="0.94"/><circle cx="120.2" cy="262.0" r="0.70" fill-opacity="0.74"/><circle cx="166.5" cy="277.9" r="0.80" fill-opacity="0.89"/><circle cx="186.1" cy="283.7" r="0.90" fill-opacity="0.67"/><circle cx="54.8" cy="225.2" r="0.60" fill-opacity="0.60"/><circle cx="132.5" cy="270.7" r="0.75" fill-opacity="0.99"/><circle cx="148.7" cy="343.8" r="0.90" fill-opacity="0.83"/><circle cx="79.8" cy="321.5" r="0.80" fill-opacity="0.80"/><circle cx="72.1" cy="293.4" r="0.70" fill-opacity="0.80"/><circle cx="212.0" cy="281.6" r="0.70" fill-opacity="0.85"/><circle cx="111.1" cy="256.5" r="1.10" fill-opacity="0.96"/><circle cx="102.7" cy="260.7" r="0.75" fill-opacity="0.75"/><circle cx="127.8" cy="277.0" r="0.60" fill-opacity="0.74"/><circle cx="106.5" cy="217.9" r="1.20" fill-opacity="0.86"/><circle cx="124.3" cy="314.9" r="0.80" fill-opacity="0.65"/><circle cx="128.0" cy="332.5" r="0.80" fill-opacity="0.80"/><circle cx="97.1" cy="312.0" r="0.75" fill-opacity="0.89"/><circle cx="209.4" cy="307.0" r="1.00" fill-opacity="0.66"/><circle cx="106.7" cy="223.2" r="0.70" fill-opacity="0.67"/><circle cx="78.6" cy="216.8" r="0.90" fill-opacity="0.89"/><circle cx="123.7" cy="224.3" r="0.70" fill-opacity="0.71"/><circle cx="56.6" cy="327.6" r="1.10" fill-opacity="0.88"/><circle cx="134.1" cy="292.8" r="1.20" fill-opacity="0.61"/><circle cx="95.4" cy="309.4" r="0.60" fill-opacity="0.90"/><circle cx="145.7" cy="311.1" r="1.10" fill-opacity="0.94"/><circle cx="160.7" cy="295.9" r="0.80" fill-opacity="0.87"/><circle cx="104.3" cy="292.1" r="0.70" fill-opacity="0.96"/><circle cx="93.1" cy="256.3" r="0.75" fill-opacity="0.70"/><circle cx="121.9" cy="265.0" r="1.10" fill-opacity="0.81"/><circle cx="159.6" cy="330.6" r="1.00" fill-opacity="0.91"/><circle cx="116.3" cy="270.4" r="0.70" fill-opacity="0.62"/><circle cx="178.7" cy="341.2" r="1.00" fill-opacity="0.64"/><circle cx="145.8" cy="278.4" r="1.20" fill-opacity="0.80"/><circle cx="156.1" cy="323.7" r="1.00" fill-opacity="0.76"/><circle cx="63.6" cy="236.6" r="1.10" fill-opacity="0.62"/><circle cx="154.4" cy="299.5" r="0.90" fill-opacity="0.64"/><circle cx="102.8" cy="256.4" r="0.80" fill-opacity="1.00"/><circle cx="65.5" cy="318.8" r="0.80" fill-opacity="0.79"/><circle cx="156.0" cy="322.0" r="1.10" fill-opacity="0.79"/><circle cx="101.3" cy="279.6" r="0.75" fill-opacity="0.91"/><circle cx="129.1" cy="316.5" r="0.80" fill-opacity="0.71"/><circle cx="114.3" cy="233.3" r="1.10" fill-opacity="0.87"/><circle cx="131.1" cy="320.0" r="0.90" fill-opacity="0.74"/><circle cx="131.6" cy="291.4" r="0.70" fill-opacity="0.86"/><circle cx="112.2" cy="339.3" r="1.10" fill-opacity="0.62"/><circle cx="186.1" cy="335.7" r="0.75" fill-opacity="0.81"/><circle cx="109.4" cy="284.9" r="0.60" fill-opacity="0.68"/><circle cx="66.0" cy="239.5" r="0.70" fill-opacity="0.83"/><circle cx="126.4" cy="316.7" r="0.80" fill-opacity="0.96"/><circle cx="196.1" cy="289.0" r="0.70" fill-opacity="0.87"/><circle cx="196.6" cy="317.2" r="0.90" fill-opacity="0.68"/><circle cx="164.6" cy="276.8" r="1.20" fill-opacity="0.87"/><circle cx="73.2" cy="212.1" r="1.10" fill-opacity="0.69"/><circle cx="76.7" cy="270.9" r="0.60" fill-opacity="0.79"/><circle cx="198.4" cy="303.5" r="0.80" fill-opacity="0.80"/><circle cx="140.3" cy="329.0" r="0.60" fill-opacity="0.66"/><circle cx="105.5" cy="302.8" r="1.20" fill-opacity="0.87"/><circle cx="121.1" cy="344.3" r="0.70" fill-opacity="0.67"/><circle cx="111.8" cy="295.0" r="0.60" fill-opacity="0.84"/><circle cx="163.0" cy="339.7" r="1.00" fill-opacity="0.92"/><circle cx="69.5" cy="269.5" r="0.75" fill-opacity="0.61"/><circle cx="168.6" cy="291.7" r="1.00" fill-opacity="0.64"/><circle cx="178.2" cy="280.5" r="0.80" fill-opacity="0.71"/><circle cx="108.9" cy="233.0" r="0.60" fill-opacity="0.93"/><circle cx="101.1" cy="323.5" r="1.10" fill-opacity="0.73"/><circle cx="210.9" cy="330.6" r="1.00" fill-opacity="0.99"/><circle cx="158.5" cy="317.8" r="1.00" fill-opacity="0.68"/><circle cx="71.8" cy="200.8" r="1.20" fill-opacity="0.84"/><circle cx="159.1" cy="317.4" r="1.10" fill-opacity="0.85"/><circle cx="154.1" cy="302.8" r="0.70" fill-opacity="0.69"/><circle cx="83.4" cy="199.3" r="0.70" fill-opacity="0.97"/><circle cx="185.2" cy="317.0" r="0.90" fill-opacity="0.94"/><circle cx="83.9" cy="198.9" r="0.60" fill-opacity="0.77"/><circle cx="156.5" cy="340.1" r="0.60" fill-opacity="0.80"/><circle cx="137.5" cy="323.0" r="1.10" fill-opacity="0.83"/><circle cx="56.8" cy="254.3" r="0.75" fill-opacity="0.79"/><circle cx="120.1" cy="209.5" r="1.20" fill-opacity="0.68"/><circle cx="78.7" cy="195.9" r="0.60" fill-opacity="0.60"/><circle cx="160.9" cy="348.4" r="0.70" fill-opacity="0.69"/><circle cx="73.9" cy="267.7" r="0.90" fill-opacity="0.89"/><circle cx="93.1" cy="308.7" r="0.75" fill-opacity="0.97"/><circle cx="112.7" cy="310.8" r="0.75" fill-opacity="0.89"/><circle cx="68.0" cy="292.2" r="1.20" fill-opacity="0.78"/><circle cx="207.7" cy="306.1" r="0.60" fill-opacity="0.62"/><circle cx="194.9" cy="301.3" r="0.70" fill-opacity="0.76"/><circle cx="104.2" cy="287.7" r="1.20" fill-opacity="0.84"/><circle cx="104.8" cy="342.5" r="1.20" fill-opacity="0.79"/><circle cx="80.6" cy="319.4" r="1.20" fill-opacity="0.75"/><circle cx="179.5" cy="341.9" r="1.00" fill-opacity="0.72"/><circle cx="64.2" cy="346.4" r="1.00" fill-opacity="0.95"/><circle cx="78.6" cy="324.2" r="1.10" fill-opacity="0.99"/><circle cx="93.7" cy="254.3" r="1.10" fill-opacity="0.84"/><circle cx="196.9" cy="320.3" r="0.90" fill-opacity="0.88"/><circle cx="105.7" cy="235.6" r="0.75" fill-opacity="0.83"/><circle cx="184.2" cy="332.8" r="0.60" fill-opacity="0.72"/><circle cx="209.5" cy="318.7" r="1.20" fill-opacity="0.74"/><circle cx="68.1" cy="280.4" r="1.10" fill-opacity="0.68"/><circle cx="173.7" cy="339.8" r="0.80" fill-opacity="0.72"/><circle cx="63.7" cy="255.6" r="0.80" fill-opacity="0.97"/><circle cx="115.7" cy="278.4" r="1.00" fill-opacity="0.91"/><circle cx="91.6" cy="284.5" r="0.90" fill-opacity="0.95"/><circle cx="137.5" cy="268.3" r="0.80" fill-opacity="0.68"/><circle cx="85.1" cy="221.9" r="0.90" fill-opacity="0.75"/><circle cx="61.7" cy="350.1" r="1.00" fill-opacity="0.95"/><circle cx="113.6" cy="266.3" r="0.70" fill-opacity="0.66"/><circle cx="59.9" cy="349.0" r="1.20" fill-opacity="0.83"/><circle cx="99.0" cy="208.7" r="1.20" fill-opacity="0.91"/><circle cx="184.6" cy="344.8" r="0.90" fill-opacity="0.94"/><circle cx="108.4" cy="349.7" r="1.10" fill-opacity="0.63"/><circle cx="62.7" cy="281.0" r="1.20" fill-opacity="0.79"/><circle cx="188.9" cy="334.0" r="1.10" fill-opacity="0.97"/><circle cx="105.2" cy="230.1" r="0.70" fill-opacity="0.98"/><circle cx="125.8" cy="218.6" r="0.80" fill-opacity="1.00"/><circle cx="89.8" cy="199.6" r="0.90" fill-opacity="0.98"/><circle cx="64.0" cy="280.3" r="0.60" fill-opacity="0.93"/><circle cx="62.1" cy="317.0" r="1.20" fill-opacity="0.62"/><circle cx="77.6" cy="312.0" r="0.80" fill-opacity="0.87"/><circle cx="102.0" cy="286.4" r="0.70" fill-opacity="0.79"/><circle cx="113.6" cy="254.7" r="1.00" fill-opacity="0.79"/><circle cx="81.4" cy="230.9" r="0.75" fill-opacity="0.97"/><circle cx="196.3" cy="267.0" r="0.80" fill-opacity="0.92"/><circle cx="79.5" cy="324.3" r="0.70" fill-opacity="0.97"/><circle cx="192.2" cy="333.0" r="0.75" fill-opacity="0.91"/><circle cx="206.7" cy="338.9" r="1.10" fill-opacity="0.94"/><circle cx="108.6" cy="322.7" r="1.20" fill-opacity="0.65"/><circle cx="112.7" cy="245.6" r="0.60" fill-opacity="0.67"/><circle cx="126.3" cy="333.1" r="1.20" fill-opacity="0.95"/><circle cx="96.9" cy="258.1" r="0.75" fill-opacity="0.61"/><circle cx="71.9" cy="265.1" r="1.20" fill-opacity="0.65"/><circle cx="196.7" cy="298.4" r="0.80" fill-opacity="0.82"/><circle cx="174.5" cy="345.9" r="1.10" fill-opacity="1.00"/><circle cx="213.1" cy="338.7" r="0.70" fill-opacity="0.76"/><circle cx="120.6" cy="219.0" r="0.90" fill-opacity="0.66"/><circle cx="135.2" cy="273.7" r="1.20" fill-opacity="0.60"/><circle cx="186.8" cy="276.2" r="0.75" fill-opacity="0.74"/><circle cx="61.0" cy="257.7" r="0.90" fill-opacity="0.83"/><circle cx="76.5" cy="221.8" r="0.80" fill-opacity="0.88"/><circle cx="85.8" cy="205.9" r="0.70" fill-opacity="0.96"/><circle cx="170.7" cy="313.0" r="0.75" fill-opacity="0.68"/><circle cx="151.9" cy="304.6" r="0.80" fill-opacity="0.83"/><circle cx="86.7" cy="203.8" r="1.10" fill-opacity="0.94"/><circle cx="200.1" cy="274.9" r="1.00" fill-opacity="0.73"/><circle cx="188.3" cy="329.2" r="1.20" fill-opacity="0.64"/><circle cx="119.6" cy="313.3" r="0.75" fill-opacity="0.95"/><circle cx="96.9" cy="222.7" r="1.00" fill-opacity="0.61"/><circle cx="166.1" cy="283.8" r="0.60" fill-opacity="0.74"/><circle cx="202.6" cy="345.6" r="0.70" fill-opacity="0.65"/><circle cx="168.1" cy="321.7" r="1.00" fill-opacity="0.91"/><circle cx="192.5" cy="284.0" r="0.60" fill-opacity="0.72"/><circle cx="71.7" cy="308.3" r="1.20" fill-opacity="0.81"/><circle cx="138.8" cy="277.9" r="0.60" fill-opacity="0.70"/><circle cx="68.7" cy="290.7" r="0.75" fill-opacity="0.64"/><circle cx="94.4" cy="321.8" r="0.60" fill-opacity="0.61"/><circle cx="201.7" cy="309.5" r="0.90" fill-opacity="0.61"/><circle cx="149.8" cy="284.0" r="0.80" fill-opacity="0.88"/><circle cx="74.1" cy="271.0" r="0.90" fill-opacity="0.64"/><circle cx="90.7" cy="298.5" r="1.20" fill-opacity="0.90"/><circle cx="80.7" cy="323.2" r="1.10" fill-opacity="0.88"/><circle cx="149.4" cy="288.1" r="0.60" fill-opacity="0.76"/><circle cx="204.1" cy="315.5" r="1.00" fill-opacity="0.76"/><circle cx="187.8" cy="305.8" r="1.00" fill-opacity="0.93"/><circle cx="136.8" cy="343.9" r="1.00" fill-opacity="0.70"/><circle cx="121.6" cy="292.8" r="1.00" fill-opacity="0.64"/><circle cx="84.4" cy="244.4" r="0.80" fill-opacity="0.80"/><circle cx="57.9" cy="215.4" r="1.10" fill-opacity="0.91"/><circle cx="203.4" cy="292.9" r="0.60" fill-opacity="0.61"/><circle cx="140.7" cy="338.6" r="0.70" fill-opacity="0.70"/><circle cx="103.1" cy="295.2" r="0.70" fill-opacity="0.62"/><circle cx="206.9" cy="338.1" r="0.90" fill-opacity="0.63"/><circle cx="148.3" cy="339.8" r="1.20" fill-opacity="0.65"/><circle cx="75.5" cy="239.6" r="1.10" fill-opacity="0.83"/><circle cx="98.1" cy="309.0" r="0.90" fill-opacity="0.94"/><circle cx="151.5" cy="283.0" r="1.10" fill-opacity="0.68"/><circle cx="141.6" cy="289.7" r="1.20" fill-opacity="0.93"/><circle cx="59.5" cy="245.9" r="0.80" fill-opacity="0.80"/><circle cx="115.4" cy="285.5" r="0.60" fill-opacity="0.97"/><circle cx="106.0" cy="244.6" r="0.90" fill-opacity="0.71"/><circle cx="124.5" cy="203.2" r="1.10" fill-opacity="0.93"/><circle cx="110.8" cy="313.3" r="0.80" fill-opacity="1.00"/><circle cx="162.2" cy="340.1" r="1.10" fill-opacity="0.73"/><circle cx="110.6" cy="299.5" r="0.90" fill-opacity="0.93"/><circle cx="136.8" cy="309.5" r="1.20" fill-opacity="0.71"/><circle cx="154.8" cy="292.7" r="0.75" fill-opacity="0.77"/><circle cx="71.0" cy="257.9" r="0.70" fill-opacity="0.80"/><circle cx="207.5" cy="283.3" r="1.10" fill-opacity="0.94"/><circle cx="99.0" cy="291.1" r="0.70" fill-opacity="0.75"/><circle cx="126.4" cy="265.4" r="1.00" fill-opacity="0.72"/><circle cx="116.6" cy="280.7" r="1.10" fill-opacity="0.86"/><circle cx="55.7" cy="310.6" r="1.20" fill-opacity="0.75"/><circle cx="102.2" cy="277.8" r="0.75" fill-opacity="0.77"/><circle cx="114.5" cy="229.9" r="1.00" fill-opacity="0.73"/><circle cx="188.5" cy="325.1" r="1.00" fill-opacity="0.68"/><circle cx="122.3" cy="336.5" r="0.60" fill-opacity="0.61"/><circle cx="95.3" cy="334.2" r="0.90" fill-opacity="0.97"/><circle cx="177.4" cy="278.0" r="1.10" fill-opacity="0.81"/><circle cx="136.7" cy="301.1" r="1.10" fill-opacity="0.79"/><circle cx="61.1" cy="299.7" r="1.20" fill-opacity="0.98"/><circle cx="162.0" cy="276.0" r="0.70" fill-opacity="0.76"/><circle cx="134.1" cy="295.3" r="0.75" fill-opacity="0.95"/><circle cx="207.8" cy="269.9" r="1.20" fill-opacity="0.91"/><circle cx="197.4" cy="285.7" r="0.70" fill-opacity="0.67"/><circle cx="105.1" cy="347.1" r="0.90" fill-opacity="0.81"/><circle cx="164.2" cy="322.3" r="1.10" fill-opacity="0.85"/><circle cx="137.8" cy="321.6" r="0.80" fill-opacity="0.80"/><circle cx="84.5" cy="222.1" r="0.70" fill-opacity="0.74"/><circle cx="212.4" cy="293.4" r="0.60" fill-opacity="0.88"/><circle cx="56.3" cy="193.9" r="0.60" fill-opacity="0.97"/><circle cx="117.7" cy="209.0" r="0.60" fill-opacity="0.87"/><circle cx="85.8" cy="271.7" r="0.90" fill-opacity="0.95"/><circle cx="196.8" cy="274.3" r="0.75" fill-opacity="0.83"/><circle cx="119.9" cy="212.6" r="0.75" fill-opacity="0.81"/></g>
<rect x="134.80" y="193.00" width="79.20" height="72.40" fill="#333" filter="url(#insf)"/>
<defs><clipPath id="elc2"><path d="M149.10,240.10 C148.85,238.92 147.65,235.27 147.60,233.00 C147.55,230.73 148.13,228.63 148.80,226.50 C149.47,224.37 150.72,222.08 151.60,220.20 C152.48,218.32 153.18,216.87 154.10,215.20 C155.02,213.53 156.08,211.72 157.10,210.20 C158.12,208.68 159.02,207.37 160.20,206.10 C161.38,204.83 162.70,203.68 164.20,202.60 C165.70,201.52 167.52,200.52 169.20,199.60 C170.88,198.68 172.42,197.77 174.30,197.10 C176.18,196.43 178.37,195.78 180.50,195.60 C182.63,195.42 185.17,195.75 187.10,196.00 C189.03,196.25 190.67,196.55 192.10,197.10 C193.53,197.65 194.68,198.30 195.70,199.30 C196.72,200.30 197.45,201.63 198.20,203.10 C198.95,204.57 199.62,206.42 200.20,208.10 C200.78,209.78 201.28,211.52 201.70,213.20 C202.12,214.88 202.50,216.48 202.70,218.20 C202.90,219.92 203.08,221.53 202.90,223.50 C202.72,225.47 202.13,227.90 201.60,230.00 C201.07,232.10 200.43,234.08 199.70,236.10 C198.97,238.12 198.30,240.08 197.20,242.10 C196.10,244.12 194.62,246.35 193.10,248.20 C191.58,250.05 189.77,251.95 188.10,253.20 C186.43,254.45 185.12,255.10 183.10,255.70 C181.08,256.30 178.48,256.70 176.00,256.80 C173.52,256.90 170.33,256.65 168.20,256.30 C166.07,255.95 164.97,255.38 163.20,254.70 C161.43,254.02 159.12,253.12 157.60,252.20 C156.08,251.28 155.13,250.40 154.10,249.20 C153.07,248.00 152.23,246.52 151.40,245.00 C150.57,243.48 149.73,242.10 149.10,240.10 C148.47,238.10 147.65,235.27 147.60,233.00 C147.55,230.73 148.60,227.58 148.80,226.50"/></clipPath></defs>
<g clip-path="url(#elc2)"><rect x="140" y="190" width="70" height="75" fill="#141414"/><g stroke="#e0e0e0" stroke-width="1.20" stroke-dasharray="3.5 1.2 2 1.5 5 1.3" opacity="0.90"><path d="M175.75,153.09 L246.67,208.50" stroke-dashoffset="0.6"/><path d="M173.96,155.38 L244.88,210.79" stroke-dashoffset="7.6"/><path d="M172.18,157.66 L243.10,213.07" stroke-dashoffset="3.9"/><path d="M170.39,159.95 L241.31,215.36" stroke-dashoffset="3.7"/><path d="M168.61,162.23 L239.53,217.64" stroke-dashoffset="3.4"/><path d="M166.82,164.52 L237.74,219.93" stroke-dashoffset="6.4"/><path d="M165.04,166.80 L235.96,222.21" stroke-dashoffset="5.2"/><path d="M163.25,169.09 L234.17,224.50" stroke-dashoffset="5.5"/><path d="M161.46,171.37 L232.39,226.78" stroke-dashoffset="4.6"/><path d="M159.68,173.66 L230.60,229.07" stroke-dashoffset="1.2"/><path d="M157.89,175.94 L228.81,231.35" stroke-dashoffset="1.9"/><path d="M156.11,178.23 L227.03,233.64" stroke-dashoffset="2.2"/><path d="M154.32,180.51 L225.24,235.92" stroke-dashoffset="0.3"/><path d="M152.54,182.80 L223.46,238.21" stroke-dashoffset="5.0"/><path d="M150.75,185.08 L221.67,240.49" stroke-dashoffset="6.9"/><path d="M148.97,187.37 L219.89,242.78" stroke-dashoffset="7.6"/><path d="M147.18,189.65 L218.10,245.06" stroke-dashoffset="0.5"/><path d="M145.40,191.94 L216.32,247.35" stroke-dashoffset="1.5"/><path d="M143.61,194.22 L214.53,249.63" stroke-dashoffset="5.0"/><path d="M141.82,196.51 L212.75,251.92" stroke-dashoffset="0.2"/><path d="M140.04,198.80 L210.96,254.20" stroke-dashoffset="1.8"/><path d="M138.25,201.08 L209.18,256.49" stroke-dashoffset="3.2"/><path d="M136.47,203.37 L207.39,258.78" stroke-dashoffset="6.1"/><path d="M134.68,205.65 L205.60,261.06" stroke-dashoffset="0.4"/><path d="M132.90,207.94 L203.82,263.35" stroke-dashoffset="0.4"/><path d="M131.11,210.22 L202.03,265.63" stroke-dashoffset="1.9"/><path d="M129.33,212.51 L200.25,267.92" stroke-dashoffset="1.8"/><path d="M127.54,214.79 L198.46,270.20" stroke-dashoffset="1.3"/><path d="M125.76,217.08 L196.68,272.49" stroke-dashoffset="4.7"/><path d="M123.97,219.36 L194.89,274.77" stroke-dashoffset="1.4"/><path d="M122.19,221.65 L193.11,277.06" stroke-dashoffset="0.0"/><path d="M120.40,223.93 L191.32,279.34" stroke-dashoffset="6.9"/><path d="M118.61,226.22 L189.54,281.63" stroke-dashoffset="3.6"/><path d="M116.83,228.50 L187.75,283.91" stroke-dashoffset="3.3"/><path d="M115.04,230.79 L185.96,286.20" stroke-dashoffset="2.0"/><path d="M113.26,233.07 L184.18,288.48" stroke-dashoffset="7.1"/><path d="M111.47,235.36 L182.39,290.77" stroke-dashoffset="7.8"/><path d="M109.69,237.64 L180.61,293.05" stroke-dashoffset="0.5"/><path d="M107.90,239.93 L178.82,295.34" stroke-dashoffset="5.4"/><path d="M106.12,242.21 L177.04,297.62" stroke-dashoffset="5.4"/><path d="M104.33,244.50 L175.25,299.91" stroke-dashoffset="4.7"/></g><rect x="134.80" y="193.00" width="79.20" height="72.40" fill="#333" filter="url(#insf)" opacity="0.45"/></g>
<path d="M149.10,240.10 C148.85,238.92 147.65,235.27 147.60,233.00 C147.55,230.73 148.13,228.63 148.80,226.50 C149.47,224.37 150.72,222.08 151.60,220.20 C152.48,218.32 153.18,216.87 154.10,215.20 C155.02,213.53 156.08,211.72 157.10,210.20 C158.12,208.68 159.02,207.37 160.20,206.10 C161.38,204.83 162.70,203.68 164.20,202.60 C165.70,201.52 167.52,200.52 169.20,199.60 C170.88,198.68 172.42,197.77 174.30,197.10 C176.18,196.43 178.37,195.78 180.50,195.60 C182.63,195.42 185.17,195.75 187.10,196.00 C189.03,196.25 190.67,196.55 192.10,197.10 C193.53,197.65 194.68,198.30 195.70,199.30 C196.72,200.30 197.45,201.63 198.20,203.10 C198.95,204.57 199.62,206.42 200.20,208.10 C200.78,209.78 201.28,211.52 201.70,213.20 C202.12,214.88 202.50,216.48 202.70,218.20 C202.90,219.92 203.08,221.53 202.90,223.50 C202.72,225.47 202.13,227.90 201.60,230.00 C201.07,232.10 200.43,234.08 199.70,236.10 C198.97,238.12 198.30,240.08 197.20,242.10 C196.10,244.12 194.62,246.35 193.10,248.20 C191.58,250.05 189.77,251.95 188.10,253.20 C186.43,254.45 185.12,255.10 183.10,255.70 C181.08,256.30 178.48,256.70 176.00,256.80 C173.52,256.90 170.33,256.65 168.20,256.30 C166.07,255.95 164.97,255.38 163.20,254.70 C161.43,254.02 159.12,253.12 157.60,252.20 C156.08,251.28 155.13,250.40 154.10,249.20 C153.07,248.00 152.23,246.52 151.40,245.00 C150.57,243.48 149.73,242.10 149.10,240.10 C148.47,238.10 147.65,235.27 147.60,233.00 C147.55,230.73 148.60,227.58 148.80,226.50" fill="none" stroke="#bf2e35" stroke-width="1.9" stroke-dasharray="11 3.2"/>
<text x="58.20" y="338.90" font-size="12.20" text-anchor="start" font-weight="bold" fill="#000" >20 nm</text>
<rect x="60.6" y="343.0" width="21.1" height="1.6" fill="#000"/>
<text x="241.30" y="203.40" font-size="12.00" text-anchor="start" font-weight="bold" fill="#111" letter-spacing="0.5">(e)</text>
<path d="M283.50,343.30 C285.15,343.30 296.35,343.30 300.00,343.30 C303.65,343.30 317.08,343.31 320.00,343.30 C322.92,343.29 328.03,343.36 329.20,343.20 C330.37,343.04 331.20,344.00 331.70,341.70 C332.20,339.40 333.67,327.34 334.20,320.20 C334.73,313.06 336.47,278.16 337.00,270.30 C337.53,262.44 338.72,240.47 339.50,241.60 C340.28,242.73 344.01,275.03 344.80,281.60 C345.59,288.17 346.82,302.97 347.40,307.30 C347.98,311.63 350.09,322.17 350.60,324.90 C351.11,327.63 351.98,333.10 352.50,334.60 C353.02,336.10 355.20,339.19 355.80,339.90 C356.40,340.61 357.95,341.42 358.50,341.70 C359.05,341.98 360.75,342.55 361.30,342.70 C361.85,342.85 362.13,343.14 364.00,343.20 C365.87,343.26 371.95,343.29 380.00,343.30 C388.05,343.31 438.05,343.30 444.50,343.30" fill="none" stroke="#111" stroke-width="1.0"/>
<path d="M283.50,343.00 C285.15,343.00 295.85,343.00 300.00,343.00 C304.15,343.00 321.85,343.02 325.00,343.00 C328.15,342.98 330.57,342.95 331.50,342.80 C332.43,342.65 333.75,343.34 334.30,341.50 C334.85,339.66 336.48,330.71 337.00,324.40 C337.52,318.09 338.92,286.20 339.50,278.40 C340.08,270.60 342.30,249.05 342.80,246.40 C343.30,243.75 344.02,248.72 344.50,251.90 C344.98,255.08 346.99,273.06 347.60,278.20 C348.21,283.34 350.08,298.98 350.60,303.30 C351.12,307.62 352.28,318.48 352.80,321.40 C353.32,324.32 355.27,330.83 355.80,332.50 C356.33,334.17 357.57,337.27 358.10,338.10 C358.63,338.93 360.53,340.41 361.10,340.80 C361.67,341.19 363.26,341.83 363.80,342.00 C364.34,342.17 364.88,342.44 366.50,342.50 C368.12,342.56 372.20,342.59 380.00,342.60 C387.80,342.61 438.05,342.60 444.50,342.60" fill="none" stroke="#d8333a" stroke-width="1.0"/>
<circle cx="331.70" cy="341.70" r="1.7" fill="#111"/>
<circle cx="334.20" cy="320.20" r="1.7" fill="#111"/>
<circle cx="337.00" cy="270.30" r="1.7" fill="#111"/>
<circle cx="339.50" cy="241.60" r="1.7" fill="#111"/>
<circle cx="344.80" cy="281.60" r="1.7" fill="#111"/>
<circle cx="347.40" cy="307.30" r="1.7" fill="#111"/>
<circle cx="350.60" cy="324.90" r="1.7" fill="#111"/>
<circle cx="352.50" cy="334.60" r="1.7" fill="#111"/>
<circle cx="355.80" cy="339.90" r="1.7" fill="#111"/>
<circle cx="358.50" cy="341.70" r="1.7" fill="#111"/>
<circle cx="361.30" cy="342.70" r="1.7" fill="#111"/>
<circle cx="337.00" cy="324.40" r="1.7" fill="#d8333a"/>
<circle cx="339.50" cy="278.40" r="1.7" fill="#d8333a"/>
<circle cx="342.80" cy="246.40" r="1.7" fill="#d8333a"/>
<circle cx="344.50" cy="251.90" r="1.7" fill="#d8333a"/>
<circle cx="347.60" cy="278.20" r="1.7" fill="#d8333a"/>
<circle cx="350.60" cy="303.30" r="1.7" fill="#d8333a"/>
<circle cx="352.80" cy="321.40" r="1.7" fill="#d8333a"/>
<circle cx="355.80" cy="332.50" r="1.7" fill="#d8333a"/>
<circle cx="358.10" cy="338.10" r="1.7" fill="#d8333a"/>
<circle cx="361.10" cy="340.80" r="1.7" fill="#d8333a"/>
<circle cx="363.80" cy="342.00" r="1.7" fill="#d8333a"/>
<circle cx="366.50" cy="342.50" r="1.7" fill="#d8333a"/>
<path d="M282.60,217.40 H445.50 V343.40" fill="none" stroke="#555" stroke-width="1.00"/>
<path d="M282.60,217.40 V343.40 H445.50" fill="none" stroke="#1a1a1a" stroke-width="1.00"/>
<path d="M279.10,343.40 H282.60 M279.10,322.40 H282.60 M279.10,301.40 H282.60 M279.10,280.40 H282.60 M279.10,259.40 H282.60 M279.10,238.40 H282.60 M279.10,217.40 H282.60 M280.50,332.90 H282.60 M280.50,311.90 H282.60 M280.50,290.90 H282.60 M280.50,269.90 H282.60 M280.50,248.90 H282.60 M280.50,227.90 H282.60 " stroke="#1a1a1a" stroke-width="1"/>
<path d="M282.60,343.40 V346.60 M323.33,343.40 V346.60 M364.05,343.40 V346.60 M404.77,343.40 V346.60 M445.50,343.40 V346.60 M294.86,343.40 V345.20 M302.03,343.40 V345.20 M307.12,343.40 V345.20 M311.07,343.40 V345.20 M314.29,343.40 V345.20 M317.02,343.40 V345.20 M319.38,343.40 V345.20 M321.46,343.40 V345.20 M335.58,343.40 V345.20 M342.76,343.40 V345.20 M347.84,343.40 V345.20 M351.79,343.40 V345.20 M355.02,343.40 V345.20 M357.74,343.40 V345.20 M360.10,343.40 V345.20 M362.19,343.40 V345.20 M376.31,343.40 V345.20 M383.48,343.40 V345.20 M388.57,343.40 V345.20 M392.52,343.40 V345.20 M395.74,343.40 V345.20 M398.47,343.40 V345.20 M400.83,343.40 V345.20 M402.91,343.40 V345.20 M417.03,343.40 V345.20 M424.21,343.40 V345.20 M429.29,343.40 V345.20 M433.24,343.40 V345.20 M436.47,343.40 V345.20 M439.19,343.40 V345.20 M441.55,343.40 V345.20 M443.64,343.40 V345.20 " stroke="#1a1a1a" stroke-width="1"/>
<text x="277.60" y="347.70" font-size="12.50" text-anchor="end" font-weight="normal" fill="#111" >0</text>
<text x="277.60" y="326.70" font-size="12.50" text-anchor="end" font-weight="normal" fill="#111" >5</text>
<text x="277.60" y="305.70" font-size="12.50" text-anchor="end" font-weight="normal" fill="#111" >10</text>
<text x="277.60" y="284.70" font-size="12.50" text-anchor="end" font-weight="normal" fill="#111" >15</text>
<text x="277.60" y="263.70" font-size="12.50" text-anchor="end" font-weight="normal" fill="#111" >20</text>
<text x="277.60" y="242.70" font-size="12.50" text-anchor="end" font-weight="normal" fill="#111" >35</text>
<text x="277.60" y="221.70" font-size="12.50" text-anchor="end" font-weight="normal" fill="#111" >30</text>
<text x="282.90" y="362.6" font-size="12.50" fill="#111" text-anchor="middle">10<tspan font-size="8.6" dy="-5">0</tspan></text>
<text x="323.63" y="362.6" font-size="12.50" fill="#111" text-anchor="middle">10<tspan font-size="8.6" dy="-5">1</tspan></text>
<text x="364.35" y="362.6" font-size="12.50" fill="#111" text-anchor="middle">10<tspan font-size="8.6" dy="-5">2</tspan></text>
<text x="405.07" y="362.6" font-size="12.50" fill="#111" text-anchor="middle">10<tspan font-size="8.6" dy="-5">3</tspan></text>
<text x="445.80" y="362.6" font-size="12.50" fill="#111" text-anchor="middle">10<tspan font-size="8.6" dy="-5">4</tspan></text>
<text x="364.50" y="377.80" font-size="12.45" text-anchor="middle" font-weight="normal" fill="#111" >Size (nm)</text>
<text transform="translate(258.2,280.2) rotate(-90)" font-size="12.45" fill="#111" text-anchor="middle">Number (%)</text>
<path d="M356,228.1 H368.1" stroke="#111" stroke-width="1"/><circle cx="362.2" cy="228.1" r="1.5" fill="#111"/>
<path d="M355,241.7 H368.3" stroke="#d8333a" stroke-width="1"/><circle cx="362.2" cy="241.7" r="1.5" fill="#d8333a"/>
<text x="369.60" y="232.80" font-size="10.60" text-anchor="start" font-weight="bold" fill="#111" >SPN</text>
<text x="369.60" y="246.30" font-size="10.60" text-anchor="start" font-weight="bold" fill="#111" >SPN@RBCM</text>
<text x="472.60" y="203.20" font-size="12.00" text-anchor="start" font-weight="bold" fill="#111" letter-spacing="0.5">(f)</text>
<defs><linearGradient id="gbg" x1="0" x2="1" y1="0" y2="0"><stop offset="0" stop-color="#84acda"/><stop offset="0.28" stop-color="#86aeda"/><stop offset="0.3" stop-color="#88b0da"/><stop offset="0.6" stop-color="#84aeda"/><stop offset="0.88" stop-color="#8ab3dc"/><stop offset="0.95" stop-color="#98bde2"/><stop offset="1" stop-color="#93b8dd"/></linearGradient><linearGradient id="lane" x1="0" x2="0" y1="0" y2="1"><stop offset="0" stop-color="#6294cb"/><stop offset="0.03" stop-color="#5789c4"/><stop offset="0.06" stop-color="#3f71b5"/><stop offset="0.085" stop-color="#4b7dbe"/><stop offset="0.14" stop-color="#5083c1"/><stop offset="0.38" stop-color="#5887c4"/><stop offset="0.395" stop-color="#3d6fb3"/><stop offset="0.41" stop-color="#6597cf"/><stop offset="0.6" stop-color="#6e9ed4"/><stop offset="1" stop-color="#78a7d9"/></linearGradient><linearGradient id="laneh" x1="0" x2="1" y1="0" y2="0"><stop offset="0" stop-color="#2a5fa6" stop-opacity="0.12"/><stop offset="0.07" stop-color="#2a5fa6" stop-opacity="0"/><stop offset="0.93" stop-color="#2a5fa6" stop-opacity="0"/><stop offset="1" stop-color="#2a5fa6" stop-opacity="0.1"/></linearGradient><filter id="gblur" x="-10%" y="-50%" width="120%" height="200%"><feGaussianBlur stdDeviation="0.5"/></filter></defs>
<rect x="523.30" y="199.80" width="140.10" height="144.50" fill="url(#gbg)"/>
<defs><filter id="mblur" x="-10%" y="-100%" width="120%" height="300%"><feGaussianBlur stdDeviation="0.7"/></filter></defs><g fill="#2f66ae" filter="url(#mblur)"><rect x="530.0" y="208.90" width="22.0" height="1.20" rx="0.60" fill-opacity="0.12"/><rect x="530.0" y="214.90" width="22.0" height="1.20" rx="0.60" fill-opacity="0.12"/><rect x="527.0" y="219.65" width="29.0" height="2.30" rx="1.15" fill-opacity="0.75"/><rect x="527.0" y="230.50" width="29.0" height="2.80" rx="1.40" fill-opacity="0.80"/><rect x="527.0" y="246.10" width="29.0" height="3.40" rx="1.70" fill-opacity="0.82"/><rect x="528.0" y="261.80" width="27.0" height="6.00" rx="3.00" fill-opacity="0.78"/><rect x="529.0" y="280.70" width="26.0" height="5.80" rx="2.90" fill-opacity="0.82"/><rect x="530.0" y="302.80" width="24.0" height="2.80" rx="1.40" fill-opacity="0.62"/><rect x="529.5" y="323.20" width="25.0" height="4.20" rx="2.10" fill-opacity="0.75"/><rect x="530.0" y="340.55" width="24.0" height="3.30" rx="1.65" fill-opacity="0.78"/></g>
<g fill="#3a6fb4" filter="url(#gblur)"><rect x="562" y="257.4" width="88" height="1.6" fill-opacity="0.25"/><rect x="562" y="297.5" width="88" height="1.8" fill-opacity="0.25"/></g>
<rect x="563.60" y="200.80" width="39.20" height="143.50" rx="3.5" fill="url(#lane)"/>
<rect x="563.60" y="200.80" width="39.20" height="143.50" rx="3.5" fill="url(#laneh)"/>
<g fill="#2a5fa6" filter="url(#gblur)"><rect x="564.10" y="221.50" width="38.20" height="1.00" fill-opacity="0.10"/><rect x="564.10" y="227.50" width="38.20" height="1.00" fill-opacity="0.10"/><rect x="564.10" y="235.50" width="38.20" height="1.00" fill-opacity="0.08"/><rect x="564.10" y="243.50" width="38.20" height="1.00" fill-opacity="0.08"/><rect x="564.10" y="249.50" width="38.20" height="1.00" fill-opacity="0.08"/><rect x="564.10" y="265.50" width="38.20" height="1.00" fill-opacity="0.08"/><rect x="564.10" y="274.20" width="38.20" height="1.60" fill-opacity="0.22"/><rect x="564.10" y="282.50" width="38.20" height="1.00" fill-opacity="0.08"/><rect x="564.10" y="289.50" width="38.20" height="1.00" fill-opacity="0.08"/><rect x="564.10" y="297.40" width="38.20" height="2.00" fill-opacity="0.50"/><rect x="564.10" y="305.50" width="38.20" height="1.00" fill-opacity="0.08"/><rect x="564.10" y="312.50" width="38.20" height="1.00" fill-opacity="0.08"/><rect x="564.10" y="321.20" width="38.20" height="1.60" fill-opacity="0.30"/><rect x="564.10" y="328.80" width="38.20" height="1.40" fill-opacity="0.18"/><rect x="564.10" y="335.50" width="38.20" height="1.00" fill-opacity="0.08"/></g>
<rect x="609.80" y="200.80" width="38.40" height="143.50" rx="3.5" fill="url(#lane)"/>
<rect x="609.80" y="200.80" width="38.40" height="143.50" rx="3.5" fill="url(#laneh)"/>
<g fill="#2a5fa6" filter="url(#gblur)"><rect x="610.30" y="221.50" width="37.40" height="1.00" fill-opacity="0.10"/><rect x="610.30" y="227.50" width="37.40" height="1.00" fill-opacity="0.10"/><rect x="610.30" y="235.50" width="37.40" height="1.00" fill-opacity="0.08"/><rect x="610.30" y="243.50" width="37.40" height="1.00" fill-opacity="0.08"/><rect x="610.30" y="249.50" width="37.40" height="1.00" fill-opacity="0.08"/><rect x="610.30" y="265.50" width="37.40" height="1.00" fill-opacity="0.08"/><rect x="610.30" y="274.20" width="37.40" height="1.60" fill-opacity="0.22"/><rect x="610.30" y="282.50" width="37.40" height="1.00" fill-opacity="0.08"/><rect x="610.30" y="289.50" width="37.40" height="1.00" fill-opacity="0.08"/><rect x="610.30" y="297.40" width="37.40" height="2.00" fill-opacity="0.50"/><rect x="610.30" y="305.50" width="37.40" height="1.00" fill-opacity="0.08"/><rect x="610.30" y="312.50" width="37.40" height="1.00" fill-opacity="0.08"/><rect x="610.30" y="321.20" width="37.40" height="1.60" fill-opacity="0.30"/><rect x="610.30" y="328.80" width="37.40" height="1.40" fill-opacity="0.18"/><rect x="610.30" y="335.50" width="37.40" height="1.00" fill-opacity="0.08"/></g>
<text x="519.60" y="224.40" font-size="12.30" text-anchor="end" font-weight="bold" fill="#111" >170 KDa</text>
<text x="519.60" y="238.70" font-size="12.30" text-anchor="end" font-weight="bold" fill="#111" >130 KDa</text>
<text x="519.60" y="252.50" font-size="12.30" text-anchor="end" font-weight="bold" fill="#111" >100 KDa</text>
<text x="519.60" y="266.60" font-size="12.30" text-anchor="end" font-weight="bold" fill="#111" >70 KDa</text>
<text x="519.60" y="282.20" font-size="12.30" text-anchor="end" font-weight="bold" fill="#111" >55 KDa</text>
<text x="519.60" y="306.40" font-size="12.30" text-anchor="end" font-weight="bold" fill="#111" >40 KDa</text>
<text x="519.60" y="328.00" font-size="12.30" text-anchor="end" font-weight="bold" fill="#111" >35 KDa</text>
<text transform="translate(553.00,352.00) rotate(-46)" font-size="12.40" font-weight="bold" fill="#111" text-anchor="end">Marker</text>
<text transform="translate(594.00,352.50) rotate(-46)" font-size="12.40" font-weight="bold" fill="#111" text-anchor="end">RBCM-</text>
<text transform="translate(609.50,361.00) rotate(-46)" font-size="12.40" font-weight="bold" fill="#111" text-anchor="end">vesicles</text>
<text transform="translate(643.20,353.00) rotate(-46)" font-size="12.40" font-weight="bold" fill="#111" text-anchor="end">SPN@</text>
<text transform="translate(653.80,364.00) rotate(-46)" font-size="12.40" font-weight="bold" fill="#111" text-anchor="end">RBCM</text>
</svg></body></html>
